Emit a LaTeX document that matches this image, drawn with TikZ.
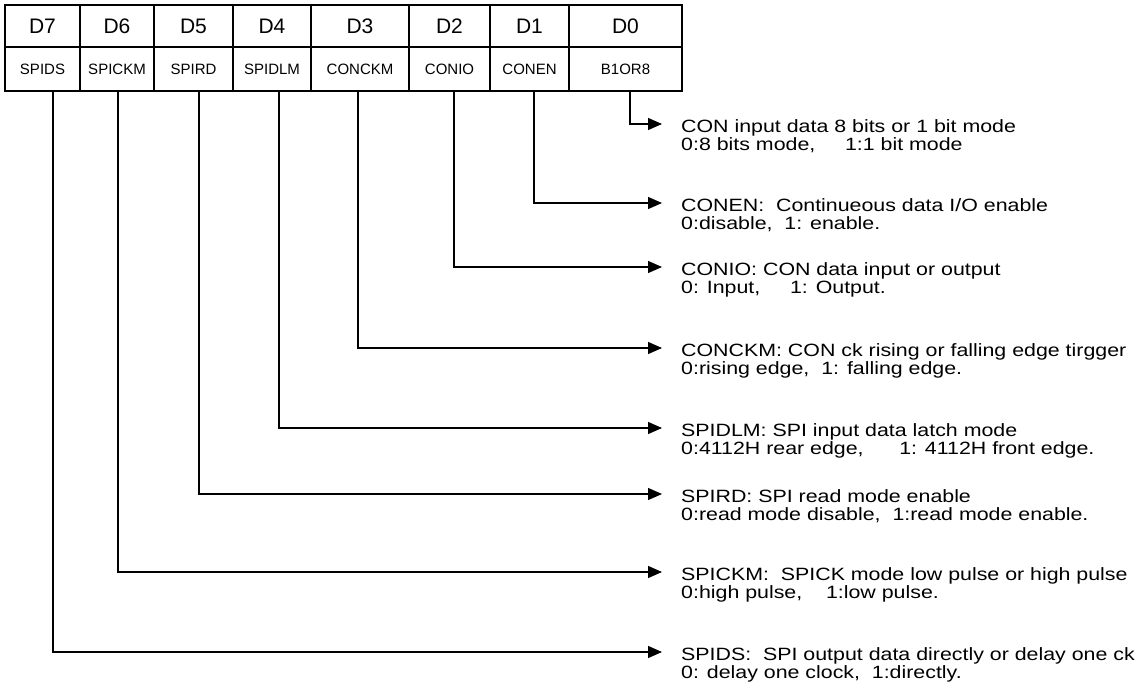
\documentclass[tikz,border=0pt]{standalone}
\usepackage{fontspec}
\setmainfont{Liberation Sans}
\newfontfamily\descfont[FakeStretch=1.2]{Liberation Sans}
\usetikzlibrary{arrows.meta,positioning}
\tikzset{
  bitcell/.style={rectangle, draw=black, line width=1.4pt, outer sep=0pt, inner sep=0pt, minimum height=42pt, font=\fontsize{21}{24}\selectfont},
  namecell/.style={bitcell, minimum height=44pt, font=\fontsize{15}{17}\selectfont},
  desc/.style={anchor=north west, align=left, inner sep=0pt, font=\descfont\fontsize{17.8}{18}\selectfont},
  arr/.style={-{Triangle[length=14pt,width=12pt]}, draw=black, line width=1.3pt},
}

\begin{document}
\begin{tikzpicture}[x=1pt, y=-1pt]
\useasboundingbox (0,0) rectangle (1143,682);
% bit row
\node[bitcell, minimum width=75pt, anchor=north west] (b7) at (5,5) {D7};
\node[bitcell, minimum width=74pt, right=0pt of b7] (b6) {D6};
\node[bitcell, minimum width=79pt, right=0pt of b6] (b5) {D5};
\node[bitcell, minimum width=78pt, right=0pt of b5] (b4) {D4};
\node[bitcell, minimum width=98pt, right=0pt of b4] (b3) {D3};
\node[bitcell, minimum width=81pt, right=0pt of b3] (b2) {D2};
\node[bitcell, minimum width=79pt, right=0pt of b2] (b1) {D1};
\node[bitcell, minimum width=113pt, right=0pt of b1] (b0) {D0};
% field names
\node[namecell, minimum width=75pt, below=0pt of b7] (n7) {SPIDS};
\node[namecell, minimum width=74pt, below=0pt of b6] (n6) {SPICKM};
\node[namecell, minimum width=79pt, below=0pt of b5] (n5) {SPIRD};
\node[namecell, minimum width=78pt, below=0pt of b4] (n4) {SPIDLM};
\node[namecell, minimum width=98pt, below=0pt of b3] (n3) {CONCKM};
\node[namecell, minimum width=81pt, below=0pt of b2] (n2) {CONIO};
\node[namecell, minimum width=79pt, below=0pt of b1] (n1) {CONEN};
\node[namecell, minimum width=113pt, below=0pt of b0] (n0) {B1OR8};
% arrow ends
\coordinate (e0) at (662,124);
\coordinate (e1) at (662,203);
\coordinate (e2) at (662,267);
\coordinate (e3) at (662,348);
\coordinate (e4) at (662,428);
\coordinate (e5) at (662,494);
\coordinate (e6) at (662,572);
\coordinate (e7) at (662,652);
% descriptions
\node[desc] (t0) at ([xshift=19pt,yshift=5pt]e0) {CON input data 8 bits or 1 bit mode\\0:8 bits mode,~~~~~1:1 bit mode};
\node[desc] (t1) at ([xshift=19pt,yshift=5pt]e1) {CONEN:~~Continueous data I/O enable\\0:disable,~~1: enable.};
\node[desc] (t2) at ([xshift=19pt,yshift=5pt]e2) {CONIO: CON data input or output\\0: Input,~~~~~1: Output.};
\node[desc] (t3) at ([xshift=19pt,yshift=5pt]e3) {CONCKM: CON ck rising or falling edge tirgger\\0:rising edge,~~1: falling edge.};
\node[desc] (t4) at ([xshift=19pt,yshift=5pt]e4) {SPIDLM: SPI input data latch mode\\0:4112H rear edge,~~~~~~1: 4112H front edge.};
\node[desc] (t5) at ([xshift=19pt,yshift=5pt]e5) {SPIRD: SPI read mode enable\\0:read mode disable,~~1:read mode enable.};
\node[desc] (t6) at ([xshift=19pt,yshift=5pt]e6) {SPICKM:~~SPICK mode low pulse or high pulse\\0:high pulse,~~~~1:low pulse.};
\node[desc] (t7) at ([xshift=19pt,yshift=5pt]e7) {SPIDS:~~SPI output data directly or delay one ck\\0: delay one clock,~~1:directly.};
\draw[arr] ([xshift=4.5pt]n0.south) |- (e0);
\draw[arr] ([xshift=4.5pt]n1.south) |- (e1);
\draw[arr] ([xshift=4.5pt]n2.south) |- (e2);
\draw[arr] ([xshift=-2pt]n3.south) |- (e3);
\draw[arr] ([xshift=7pt]n4.south) |- (e4);
\draw[arr] ([xshift=5.5pt]n5.south) |- (e5);
\draw[arr] ([xshift=1pt]n6.south) |- (e6);
\draw[arr] ([xshift=10.5pt]n7.south) |- (e7);
\end{tikzpicture}
\end{document}
